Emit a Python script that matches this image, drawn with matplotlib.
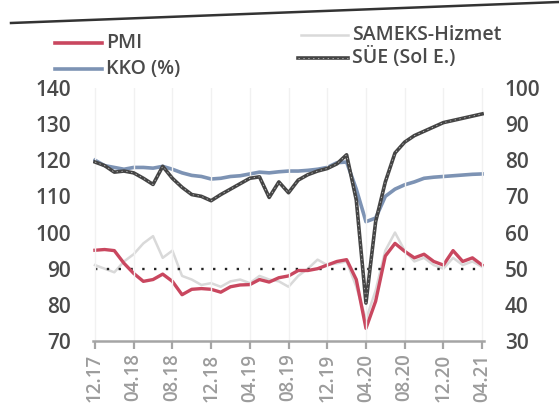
import matplotlib
matplotlib.use("Agg")
import matplotlib.pyplot as plt
from matplotlib.lines import Line2D
import numpy as np

plt.rcParams['font.family'] = ['Open Sans', 'DejaVu Sans']

# Monthly data 12.17 .. 04.21
months = ["12.17", "01.18", "02.18", "03.18", "04.18", "05.18", "06.18", "07.18", "08.18", "09.18",
          "10.18", "11.18", "12.18", "01.19", "02.19", "03.19", "04.19", "05.19", "06.19", "07.19",
          "08.19", "09.19", "10.19", "11.19", "12.19", "01.20", "02.20", "03.20", "04.20", "05.20",
          "06.20", "07.20", "08.20", "09.20", "10.20", "11.20", "12.20", "01.21", "02.21", "03.21", "04.21"]

# SÜE (left axis)
sue = [119.5, 118.5, 116.7, 117.0, 116.5, 115.0, 113.3, 118.3, 115.0, 112.5,
       110.5, 110.0, 108.8, 110.5, 112.0, 113.5, 115.0, 115.4, 109.7, 114.0,
       111.0, 114.5, 116.0, 117.0, 117.7, 119.0, 121.5, 109.0, 80.5, 103.0,
       114.0, 122.0, 125.0, 126.8, 128.0, 129.2, 130.4, 131.0, 131.6, 132.2, 132.8]

# KKO % (right axis)
kko = [80.0, 78.5, 78.0, 77.5, 78.0, 78.0, 77.8, 78.3, 77.5, 76.5,
       75.8, 75.5, 74.8, 75.0, 75.5, 75.7, 76.2, 76.7, 76.5, 76.8,
       77.0, 77.0, 77.2, 77.5, 78.0, 79.3, 79.5, 72.0, 63.0, 64.0,
       70.0, 72.0, 73.2, 74.0, 75.0, 75.3, 75.5, 75.7, 75.9, 76.1, 76.2]

# PMI (right axis)
pmi = [55.1, 55.3, 55.0, 51.5, 48.7, 46.5, 47.0, 48.5, 46.5, 42.8,
       44.3, 44.5, 44.3, 43.5, 45.0, 45.5, 45.6, 47.0, 46.3, 47.5,
       48.0, 49.5, 49.5, 50.0, 51.0, 52.0, 52.5, 47.0, 33.5, 41.0,
       53.5, 57.0, 54.8, 53.0, 54.0, 52.0, 51.0, 55.0, 52.0, 53.0, 51.0]

# SAMEKS-Hizmet (right axis)
sameks = [51.0, 50.0, 49.0, 52.0, 54.0, 57.0, 59.0, 53.0, 55.0, 48.0,
          47.0, 45.5, 46.0, 45.0, 46.5, 47.0, 46.0, 48.0, 47.0, 46.5,
          45.0, 48.0, 50.0, 52.5, 51.0, 51.5, 52.0, 45.0, 36.0, 44.0,
          55.0, 60.0, 55.0, 52.0, 53.0, 51.0, 50.0, 53.0, 51.0, 52.0, 50.5]

threshold = 50
tick_labels = ["12.17", "04.18", "08.18", "12.18", "04.19", "08.19", "12.19", "04.20", "08.20", "12.20", "04.21"]
left_ticks = [70, 80, 90, 100, 110, 120, 130, 140]
right_ticks = [30, 40, 50, 60, 70, 80, 90, 100]

c_pmi = "#c9475f"
c_kko = "#7d93b4"
c_sam = "#d9d9d9"
c_sue = "#454545"
c_txt = "#4a4a4a"
fw = "semibold"

fig = plt.figure(figsize=(5.59, 4.05), dpi=100)
ax = fig.add_axes([0.1664, 0.158, 0.6995, 0.625])
ax2 = ax.twinx()

x = np.arange(len(months))
ax.set_xlim(-0.2, len(months) - 0.8)
ax.set_ylim(70, 140)
ax2.set_ylim(30, 100)

ax.set_zorder(2)
ax.patch.set_visible(False)

ax2.plot(x, sameks, color=c_sam, lw=1.8, zorder=1)
ax2.plot(x, [threshold] * len(x), color="#222222", lw=1.7, ls=(0, (1, 4)), zorder=2)
ax2.plot(x, pmi, color=c_pmi, lw=2.4, zorder=3)
ax2.plot(x, kko, color=c_kko, lw=2.6, zorder=4)
ax.plot(x, sue, color=c_sue, lw=2.6, zorder=5)
ax.plot(x, sue, color="#d0d0d0", lw=0.5, ls=(0, (2, 5)), zorder=6)

tick_pos = [months.index(t) for t in tick_labels]
for p in tick_pos:
    ax.axvline(p, color="#f1f1f1", lw=1.0, zorder=0)

for a in (ax, ax2):
    for s in a.spines.values():
        s.set_visible(False)
ax.spines["bottom"].set_visible(True)
ax.spines["bottom"].set_color("#a5a5a5")
ax.spines["bottom"].set_linewidth(1.8)

ax.set_xticks(tick_pos)
ax.set_xticklabels(tick_labels, rotation=90, fontsize=13.5, color="#9c9c9c", fontweight=fw)
ax.tick_params(axis="x", length=6, width=1.6, color="#a5a5a5", pad=3)

ax.set_yticks(left_ticks)
ax.set_yticklabels([str(t) for t in left_ticks], fontsize=15, color=c_txt, fontweight=fw)
ax.tick_params(axis="y", length=0, pad=16)

ax2.set_yticks(right_ticks)
ax2.set_yticklabels([str(t) for t in right_ticks], fontsize=15, color=c_txt, fontweight=fw)
ax2.tick_params(axis="y", length=0, pad=15)

def leg(x0, x1, y, color, label, lw=2.6, overlay=False):
    fy = 1 - y / 405
    fig.add_artist(Line2D([x0 / 559, x1 / 559], [fy, fy], color=color, lw=lw))
    if overlay:
        fig.add_artist(Line2D([x0 / 559, x1 / 559], [fy, fy], color="#d0d0d0", lw=0.5, ls=(0, (2, 5))))
    fig.text((x1 + 4) / 559, fy, label, fontsize=14, color=c_txt, va="center", ha="left",
             fontweight=fw)

leg(55, 102, 43, c_pmi, "PMI")
leg(55, 102, 69, c_kko, "KKO (%)")
leg(301, 348, 35, c_sam, "SAMEKS-Hizmet", lw=1.8)
leg(298, 348, 58, c_sue, "SÜE (Sol E.)", overlay=True)

# page rule at the top
fig.add_artist(Line2D([11 / 559, 1.0], [1 - 23 / 405, 1 - 2 / 405], color="#333333", lw=1.8))

fig.savefig("out.png", dpi=100)
